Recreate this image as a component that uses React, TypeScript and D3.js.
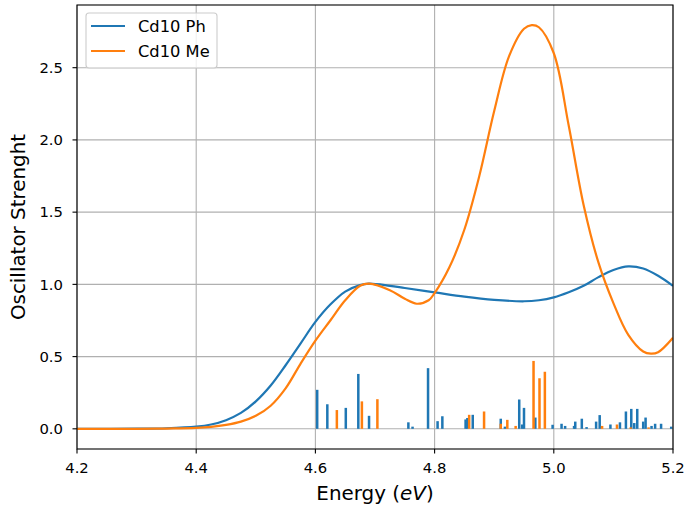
import React from "react";
import * as d3 from "d3";

// Curve samples: energy (eV) and oscillator strength
const phE = [4.2, 4.3, 4.35, 4.4, 4.425, 4.45, 4.475, 4.5, 4.525, 4.55, 4.575, 4.6, 4.625, 4.65, 4.675, 4.69, 4.725, 4.75, 4.8, 4.85, 4.9, 4.95, 4.975, 5.0, 5.025, 5.05, 5.075, 5.1, 5.125, 5.15, 5.175, 5.2];
const phV = [0, 0.001, 0.004, 0.015, 0.03, 0.06, 0.11, 0.19, 0.3, 0.44, 0.59, 0.74, 0.86, 0.95, 0.995, 1.005, 0.99, 0.975, 0.945, 0.915, 0.893, 0.883, 0.89, 0.91, 0.945, 0.99, 1.05, 1.1, 1.125, 1.11, 1.06, 0.99];

const meE = [4.2, 4.3, 4.35, 4.4, 4.425, 4.45, 4.475, 4.5, 4.525, 4.55, 4.575, 4.6, 4.625, 4.65, 4.675, 4.69, 4.725, 4.75, 4.77, 4.79, 4.8, 4.825, 4.85, 4.875, 4.9, 4.925, 4.95, 4.963, 4.975, 5.0, 5.025, 5.05, 5.075, 5.1, 5.125, 5.15, 5.163, 5.175, 5.2];
const meV = [0, 0.0, 0.002, 0.006, 0.013, 0.027, 0.05, 0.09, 0.16, 0.28, 0.45, 0.61, 0.75, 0.89, 0.99, 1.005, 0.96, 0.9, 0.866, 0.89, 0.94, 1.12, 1.38, 1.75, 2.2, 2.58, 2.77, 2.795, 2.78, 2.6, 2.1, 1.55, 1.15, 0.87, 0.65, 0.535, 0.52, 0.53, 0.63];

// Stick spectra (transition energies and strengths)
const phStickE = [4.603, 4.62, 4.651, 4.672, 4.69, 4.756, 4.763, 4.789, 4.805, 4.813, 4.852, 4.855, 4.864, 4.911, 4.918, 4.942, 4.947, 4.95, 4.969, 4.998, 5.013, 5.019, 5.034, 5.036, 5.047, 5.055, 5.071, 5.077, 5.095, 5.111, 5.121, 5.13, 5.135, 5.14, 5.15, 5.154, 5.164, 5.17, 5.18, 5.197];
const phStickV = [0.27, 0.17, 0.145, 0.38, 0.09, 0.045, 0.015, 0.42, 0.053, 0.087, 0.065, 0.075, 0.097, 0.07, 0.015, 0.203, 0.03, 0.145, 0.078, 0.028, 0.035, 0.02, 0.02, 0.05, 0.07, 0.012, 0.05, 0.095, 0.03, 0.045, 0.12, 0.138, 0.04, 0.138, 0.05, 0.078, 0.02, 0.035, 0.035, 0.015];

const meStickE = [4.636, 4.678, 4.704, 4.858, 4.883, 4.911, 4.922, 4.936, 4.966, 4.976, 4.985, 5.081, 5.106, 5.129, 5.159];
const meStickV = [0.13, 0.19, 0.205, 0.097, 0.12, 0.035, 0.062, 0.02, 0.47, 0.35, 0.395, 0.02, 0.03, 0.01, 0.01];

const xTicks = [4.2, 4.4, 4.6, 4.8, 5.0, 5.2];
const yTicks = [0, 0.5, 1.0, 1.5, 2.0, 2.5];
const seriesNames = ["Cd10 Ph", "Cd10 Me"];

const W = 684;
const H = 509;
const M = { left: 77, right: 673, top: 5, bottom: 449 };
const BLUE = "#1f77b4";
const ORANGE = "#ff7f0e";
const FONT = "DejaVu Sans, sans-serif";

export default function App() {
  const x = d3.scaleLinear().domain([4.2, 5.2]).range([M.left, M.right]);
  const y = d3.scaleLinear().domain([-0.1397, 2.934]).range([M.bottom, M.top]);

  const line = d3
    .line<[number, number]>()
    .x((d) => x(d[0]))
    .y((d) => y(d[1]))
    .curve(d3.curveCatmullRom.alpha(0.5));

  const phPts = phE.map((e, i) => [e, phV[i]] as [number, number]);
  const mePts = meE.map((e, i) => [e, meV[i]] as [number, number]);
  const barW = 0.0042;

  const bars = (es: number[], vs: number[], color: string, key: string) =>
    es.map((e, i) => (
      <rect
        key={key + i}
        x={x(e - barW / 2)}
        y={y(vs[i])}
        width={x(e + barW / 2) - x(e - barW / 2)}
        height={y(0) - y(vs[i])}
        fill={color}
      />
    ));

  return (
    <svg
      width={W}
      height={H}
      style={{ position: "absolute", left: 0, top: 0, background: "#fff" }}
      fontFamily={FONT}
    >
      <defs>
        <clipPath id="plot">
          <rect x={M.left} y={M.top} width={M.right - M.left} height={M.bottom - M.top} />
        </clipPath>
      </defs>
      {/* grid */}
      {xTicks.map((t) => (
        <line key={"gx" + t} x1={x(t)} x2={x(t)} y1={M.top} y2={M.bottom} stroke="#b0b0b0" strokeWidth={1.1} />
      ))}
      {yTicks.map((t) => (
        <line key={"gy" + t} x1={M.left} x2={M.right} y1={y(t)} y2={y(t)} stroke="#b0b0b0" strokeWidth={1.1} />
      ))}
      <g clipPath="url(#plot)">
        <path d={line(phPts) || ""} fill="none" stroke={BLUE} strokeWidth={2.2} />
        <path d={line(mePts) || ""} fill="none" stroke={ORANGE} strokeWidth={2.2} />
        {bars(phStickE, phStickV, BLUE, "pb")}
        {bars(meStickE, meStickV, ORANGE, "mb")}
      </g>
      {/* spines */}
      <rect
        x={M.left}
        y={M.top}
        width={M.right - M.left}
        height={M.bottom - M.top}
        fill="none"
        stroke="#000"
        strokeWidth={1.1}
      />
      {/* x ticks */}
      {xTicks.map((t) => (
        <g key={"xt" + t}>
          <line x1={x(t)} x2={x(t)} y1={M.bottom} y2={M.bottom + 4.5} stroke="#000" strokeWidth={1.1} />
          <text x={x(t)} y={473} textAnchor="middle" fontSize={14.8} fill="#000">
            {d3.format(".1f")(t)}
          </text>
        </g>
      ))}
      {/* y ticks */}
      {yTicks.map((t) => (
        <g key={"yt" + t}>
          <line x1={M.left - 4.5} x2={M.left} y1={y(t)} y2={y(t)} stroke="#000" strokeWidth={1.1} />
          <text x={63} y={y(t)} dy="0.36em" textAnchor="end" fontSize={14.8} fill="#000">
            {d3.format(".1f")(t)}
          </text>
        </g>
      ))}
      {/* axis labels */}
      <text x={(M.left + M.right) / 2} y={500} textAnchor="middle" fontSize={19.9} fill="#000">
        Energy (<tspan fontStyle="italic">eV</tspan>)
      </text>
      <text
        transform={`translate(25, ${(M.top + M.bottom) / 2}) rotate(-90)`}
        textAnchor="middle"
        fontSize={19.9}
        fill="#000"
      >
        Oscillator Strenght
      </text>
      {/* legend */}
      <rect x={86} y={13} width={131} height={55} rx={3} fill="#fff" fillOpacity={0.8} stroke="#cccccc" strokeWidth={1.1} />
      {seriesNames.map((n, i) => (
        <g key={n}>
          <line x1={91} x2={125} y1={26 + i * 25} y2={26 + i * 25} stroke={i === 0 ? BLUE : ORANGE} strokeWidth={2.2} />
          <text x={138} y={26 + i * 25} dy="0.36em" fontSize={16.3} fill="#000">
            {n}
          </text>
        </g>
      ))}
    </svg>
  );
}
